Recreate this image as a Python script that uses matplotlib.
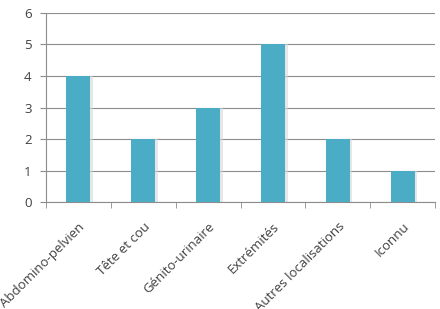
import matplotlib
matplotlib.use("Agg")
import matplotlib.pyplot as plt
import numpy as np

categories = ["Abdomino-pelvien", "Tête et cou", "Génito-urinaire", "Extrémités", "Autres localisations", "Iconnu"]
values = [4, 2, 3, 5, 2, 1]
yticks = [0, 1, 2, 3, 4, 5, 6]

plt.rcParams['font.family'] = ['Open Sans', 'DejaVu Sans']
fig = plt.figure(figsize=(4.4, 3.09), dpi=100)
ax = fig.add_axes([0.1045, 0.346, 0.8845, 0.612])

x = np.arange(len(categories))
# shadow
ax.bar(x + 0.04, values, width=0.37, color='#d8d8d8', zorder=2, alpha=0.6)
ax.bar(x, values, width=0.37, color='#4bacc6', zorder=3)

ax.set_xlim(-0.5, len(categories) - 0.5)
ax.set_ylim(0, 6)
ax.set_yticks(yticks)
ax.set_yticklabels([str(t) for t in yticks], fontsize=9.5, color='#404040')
ax.yaxis.grid(True, color='#8c8c8c', linewidth=0.8, zorder=0)
ax.set_axisbelow(True)

ax.set_xticks(x)
ax.set_xticklabels(categories, rotation=45, ha='right', rotation_mode='anchor', fontsize=9.5, color='#404040')
ax.tick_params(axis='x', which='major', length=0, pad=13)
ax.set_xticks(np.arange(-0.5, len(categories)), minor=True)
ax.tick_params(axis='x', which='minor', length=4, color='#8c8c8c', direction='out')
ax.tick_params(axis='y', length=4.3, color='#8c8c8c', direction='out', pad=6)

for s in ['top', 'right']:
    ax.spines[s].set_visible(False)
for s in ['left', 'bottom']:
    ax.spines[s].set_color('#8c8c8c')
    ax.spines[s].set_linewidth(0.8)

fig.savefig("out.png", dpi=100)
